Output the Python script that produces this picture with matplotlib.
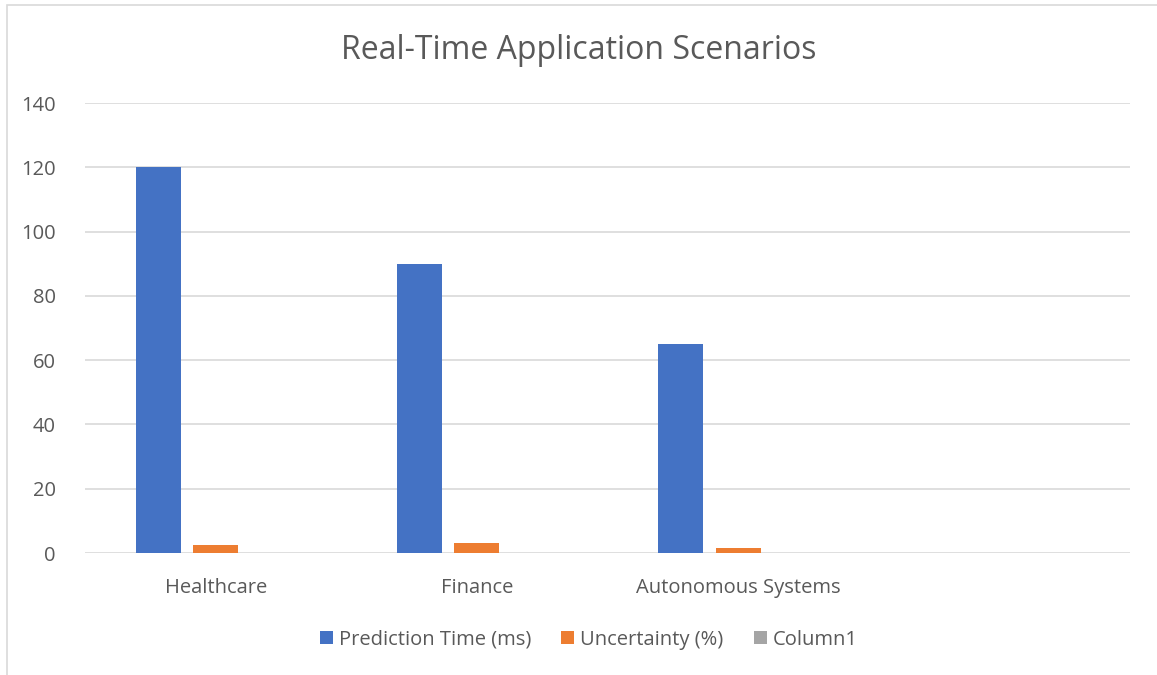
import matplotlib.pyplot as plt
import numpy as np
from matplotlib.patches import Rectangle

plt.rcParams['font.family'] = ['Open Sans', 'DejaVu Sans']

categories = ["Healthcare", "Finance", "Autonomous Systems", ""]
prediction_time = [120, 90, 65, 0]
uncertainty = [2.4, 3.0, 1.7, 0]
column1 = [0, 0, 0, 0]

series_names = ["Prediction Time (ms)", "Uncertainty (%)", "Column1"]
colors = ["#4472C4", "#ED7D31", "#A5A5A5"]
text_color = "#595959"

fig = plt.figure(figsize=(11.57, 6.75), dpi=100)
ax = fig.add_axes([0.0735, 0.1807, 0.9032, 0.6667])

# chart frame like in excel (right and bottom edges fall outside the image)
fig.patches.append(Rectangle((7 / 1157, -0.2), 1.2, 1.193, transform=fig.transFigure,
                             fill=False, edgecolor="#d9d9d9", linewidth=1.2))

x = np.arange(len(categories))
w = 0.172
off = 0.22
for i, (vals, name) in enumerate(zip([prediction_time, uncertainty, column1], series_names)):
    ax.bar(x + (i - 1) * off, vals, width=w, color=colors[i], label=name, zorder=3)

ax.set_xlim(-0.5, 3.5)
ax.set_ylim(0, 140)
ax.set_yticks(range(0, 141, 20))
ax.yaxis.grid(True, color="#d9d9d9", linewidth=1.2, zorder=0)
for s in ax.spines.values():
    s.set_visible(False)
ax.tick_params(axis="both", length=0, labelsize=14.5, colors=text_color)
ax.tick_params(axis="y", pad=21)
ax.tick_params(axis="x", pad=18)
ax.set_xticks(x)
ax.set_xticklabels(categories)

fig.suptitle("Real-Time Application Scenarios", y=0.95, fontsize=23, color=text_color)

ax.legend(loc="upper center", bbox_to_anchor=(0.482, -0.13), ncol=3, frameon=False,
          fontsize=14.5, labelcolor=text_color, handlelength=0.65, handleheight=0.65,
          handletextpad=0.3, columnspacing=1.5)

fig.savefig("out.png", dpi=100, facecolor="white")
